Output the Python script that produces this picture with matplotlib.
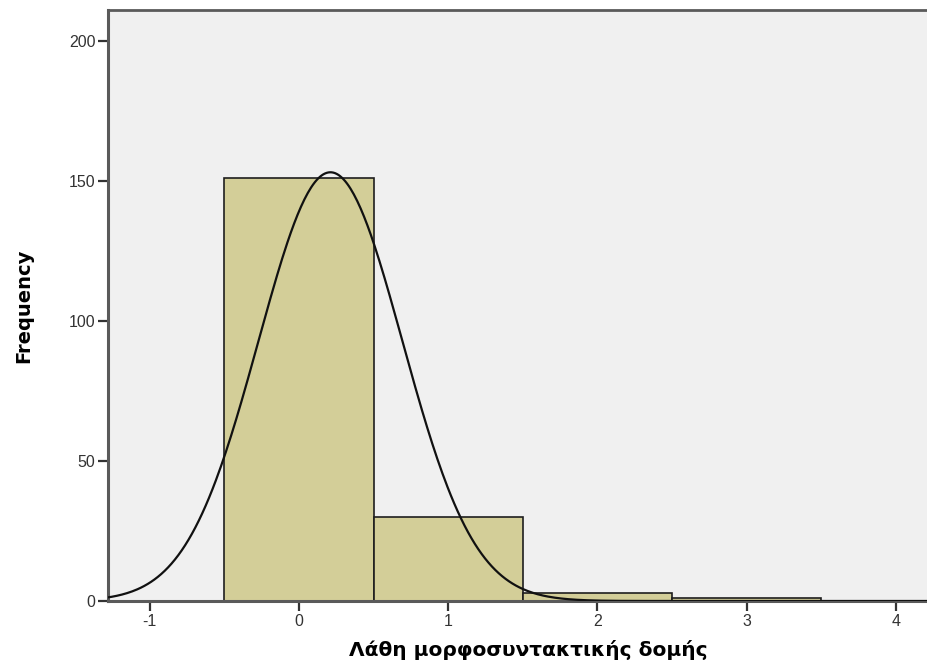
import numpy as np
import matplotlib
matplotlib.use("Agg")
import matplotlib.pyplot as plt

# ── Data ──────────────────────────────────────────────────────────────────────
bin_centers = [0, 1, 2, 3]
counts = [151, 30, 3, 1]
bin_width = 1.0
x_ticks = [-1, 0, 1, 2, 3, 4]
y_ticks = [0, 50, 100, 150, 200]
x_label = "Λάθη μορφοσυντακτικής δομής"
y_label = "Frequency"

# normal curve fitted to the binned values (SPSS-style overlay)
vals = np.repeat(bin_centers, counts)
n = vals.size
mu = vals.mean()
sd = vals.std(ddof=1)

# ── Style ─────────────────────────────────────────────────────────────────────
PANEL = "#f0f0f0"
BAR = "#d3ce98"
EDGE = "#1e1e1e"
SPINE = "#5a5a5a"
TICKTXT = "#333333"

plt.rcParams["axes.unicode_minus"] = False

fig = plt.figure(figsize=(9.28, 6.67), dpi=100)
ax = fig.add_axes([108 / 928, 66 / 667, 840 / 928, 591 / 667])
ax.set_facecolor(PANEL)

ax.bar(bin_centers, counts, width=bin_width, color=BAR,
       edgecolor=EDGE, linewidth=1.2, zorder=2)

xs = np.linspace(-1.3, 4.4, 500)
ys = n * bin_width / (sd * np.sqrt(2 * np.pi)) * np.exp(-0.5 * ((xs - mu) / sd) ** 2)
ax.plot(xs, ys, color="#111111", lw=1.6, zorder=3)

ax.set_xlim(-1.28, -1.28 + 840 / 149.2)
ax.set_ylim(0, 211)

for side in ("left", "bottom", "top"):
    ax.spines[side].set_color(SPINE)
ax.spines["left"].set_linewidth(2.2)
ax.spines["bottom"].set_linewidth(2.2)
ax.spines["top"].set_linewidth(2.0)
ax.spines["right"].set_visible(False)

ax.set_xticks(x_ticks)
ax.set_yticks(y_ticks)
ax.tick_params(axis="both", direction="out", length=7, width=1.6,
               color="#333333", labelcolor=TICKTXT, labelsize=11.5, pad=2)
for lbl in ax.get_xticklabels() + ax.get_yticklabels():
    lbl.set_family(["Liberation Sans", "DejaVu Sans"])

ax.set_ylabel(y_label,
              family=["Liberation Sans Narrow", "DejaVu Sans Condensed", "DejaVu Sans"],
              fontweight="bold", fontsize=14, labelpad=26)
ax.set_xlabel(x_label, family="DejaVu Sans", fontweight="bold",
              fontsize=14.5, labelpad=8)

fig.savefig("out.png", dpi=100, facecolor="white")
